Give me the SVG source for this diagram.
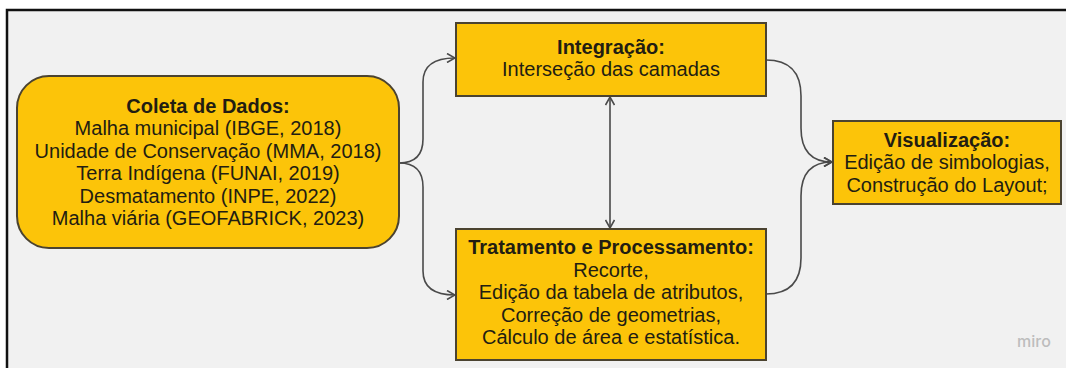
<svg xmlns="http://www.w3.org/2000/svg" width="1066" height="368" viewBox="0 0 1066 368">
<style>
.box{fill:#fcc409;stroke:#4b4330;stroke-width:2}
.t{font-family:"Liberation Sans",Arial,sans-serif;font-size:20px;fill:#221d12;text-anchor:middle}
.b{font-weight:bold}
.c{fill:none;stroke:#4a4a4a;stroke-width:1.6}
</style>
<defs>
<marker id="ah" viewBox="0 0 10 10" refX="9" refY="5" markerWidth="10" markerHeight="10" markerUnits="userSpaceOnUse" orient="auto-start-reverse">
<path d="M1,0.5 L9,5 L1,9.5" fill="none" stroke="#4a4a4a" stroke-width="1.6"/>
</marker>
</defs>
<rect x="0" y="0" width="1066" height="368" fill="#ffffff"/>
<rect x="7" y="10" width="1059" height="358" fill="#f1f1f1"/>
<path d="M7,368 L7,10 L1066,10" fill="none" stroke="#111" stroke-width="2.5"/>
<g id="connectors">
<path class="c" d="M399,163 Q423,163 423,139 L423,82 Q423,58 455,58" marker-end="url(#ah)"/>
<path class="c" d="M399,163 Q423,163 423,187 L423,271 Q423,295 455,295" marker-end="url(#ah)"/>
<path class="c" d="M610,97 L610,228" marker-start="url(#ah)" marker-end="url(#ah)"/>
<path class="c" d="M766,60 Q801,60 801,96 L801,128 Q801,162 832,162" marker-end="url(#ah)"/>
<path class="c" d="M766,294 Q801,294 801,258 L801,196 Q801,162 832,162" marker-end="url(#ah)"/>
</g>
<g id="coleta">
<rect class="box" x="17" y="76" width="382" height="172" rx="32" ry="32"/>
<text class="t b" x="208" y="113">Coleta de Dados:</text>
<text class="t" x="208" y="135">Malha municipal (IBGE, 2018)</text>
<text class="t" x="208" y="158">Unidade de Conservação (MMA, 2018)</text>
<text class="t" x="208" y="180">Terra Indígena (FUNAI, 2019)</text>
<text class="t" x="208" y="203">Desmatamento (INPE, 2022)</text>
<text class="t" x="208" y="225">Malha viária (GEOFABRICK, 2023)</text>
</g>
<g id="integracao">
<rect class="box" x="456" y="23" width="310" height="73"/>
<text class="t b" x="611" y="54">Integração:</text>
<text class="t" x="611" y="76">Interseção das camadas</text>
</g>
<g id="tratamento">
<rect class="box" x="456" y="229" width="310" height="131"/>
<text class="t b" x="611" y="254">Tratamento e Processamento:</text>
<text class="t" x="611" y="277">Recorte,</text>
<text class="t" x="611" y="299">Edição da tabela de atributos,</text>
<text class="t" x="611" y="322">Correção de geometrias,</text>
<text class="t" x="611" y="344">Cálculo de área e estatística.</text>
</g>
<g id="visualizacao">
<rect class="box" x="833" y="121" width="228" height="83"/>
<text class="t b" x="947" y="147">Visualização:</text>
<text class="t" x="947" y="169">Edição de simbologias,</text>
<text class="t" x="947" y="192">Construção do Layout;</text>
</g>
<text x="1034" y="347" font-family="Inter,'Liberation Sans',sans-serif" font-size="16" font-weight="500" fill="#bdbdbd" text-anchor="middle">miro</text>
</svg>
